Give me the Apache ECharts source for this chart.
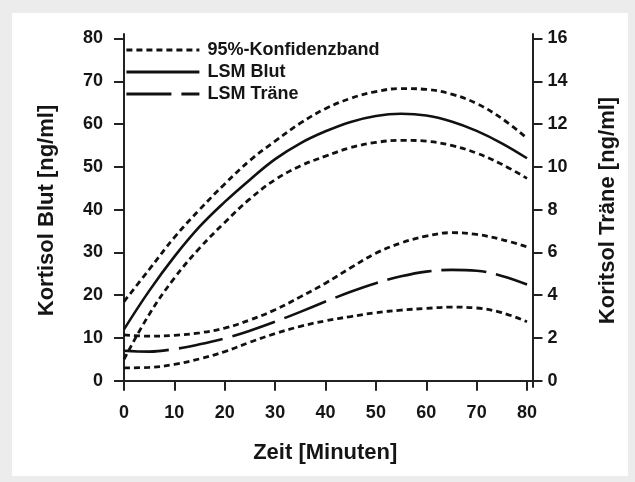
<!DOCTYPE html>
<html>
<head>
<meta charset="utf-8">
<script src="https://cdn.jsdelivr.net/npm/echarts@6/dist/echarts.min.js"></script>
<style>
  html, body { margin: 0; padding: 0; background: #ececec; }
  #panel { position: absolute; left: 12px; top: 13px; width: 616px; height: 463px; background: #ffffff; }
  #chart { position: absolute; left: 0; top: 0; width: 635px; height: 482px; }
</style>
</head>
<body>
<div id="panel"></div>
<div id="chart"></div>
<script>
// Zeit [Minuten]
const minutes = [0, 5, 10, 15, 20, 25, 30, 35, 40, 45, 50, 55, 60, 65, 70, 75, 80];
// Kortisol Blut [ng/ml] (left axis)
const blutLSM   = [12, 21, 29, 36, 41.8, 47, 51.8, 55.5, 58.3, 60.5, 61.9, 62.4, 62, 60.6, 58.4, 55.5, 52];
const blutUpper = [18.5, 26, 33.5, 40, 46, 51.5, 56, 60.2, 63.6, 66, 67.6, 68.3, 68.1, 67, 64.8, 61.3, 56.7];
const blutLower = [5, 15.5, 24, 31, 37, 42.5, 47, 50.2, 52.5, 54.5, 55.7, 56.2, 56, 55, 53.2, 50.6, 47.3];
// Kortisol Träne [ng/ml] (right axis)
const traeneLSM   = [1.40, 1.36, 1.48, 1.70, 1.98, 2.34, 2.76, 3.22, 3.70, 4.16, 4.56, 4.88, 5.10, 5.18, 5.14, 4.90, 4.50];
const traeneUpper = [2.14, 2.08, 2.12, 2.24, 2.46, 2.84, 3.32, 3.92, 4.56, 5.28, 5.96, 6.44, 6.76, 6.92, 6.84, 6.60, 6.26];
const traeneLower = [0.60, 0.62, 0.76, 1.02, 1.36, 1.80, 2.20, 2.54, 2.80, 3.00, 3.18, 3.30, 3.38, 3.44, 3.40, 3.18, 2.76];
// Tick labels
const xTicks = [0, 10, 20, 30, 40, 50, 60, 70, 80];
const yLeftTicks = [0, 10, 20, 30, 40, 50, 60, 70, 80];
const yRightTicks = [0, 2, 4, 6, 8, 10, 12, 14, 16];

const legendCI = '95%-Konfidenzband';
const legendBlut = 'LSM Blut';
const legendTraene = 'LSM Träne';

const FONT = '"Liberation Sans", Arial, Helvetica, sans-serif';
const INK = '#111111';

function pairs(ys) { return minutes.map((x, i) => [x, ys[i]]); }

function lineSeries(name, ys, axis, type, width) {
  return {
    name: name, type: 'line', yAxisIndex: axis, data: pairs(ys),
    smooth: 0.4, symbol: 'none', silent: true, animation: false,
    lineStyle: { color: INK, width: width, type: type, cap: 'butt' },
    itemStyle: { color: INK }
  };
}

const axisLineStyle = { show: true, lineStyle: { color: '#222', width: 2 } };
const tickLine = { color: '#222', width: 2 };
const labelStyle = { color: '#151515', fontFamily: FONT, fontWeight: 'bold', fontSize: 18 };
const nameStyle = { color: '#151515', fontFamily: FONT, fontWeight: 'bold', fontSize: 22 };

const chart = echarts.init(document.getElementById('chart'), null, { renderer: 'canvas' });
chart.setOption({
  backgroundColor: 'transparent',
  animation: false,
  grid: { left: 118, right: 102.5, top: 34, bottom: 95, containLabel: false },
  legend: {
    orient: 'vertical', left: 120, top: 36,
    itemWidth: 73, itemHeight: 14, itemGap: 4,
    data: [legendCI, legendBlut, legendTraene],
    itemStyle: { opacity: 0 },
    lineStyle: { width: 2.8 },
    textStyle: { color: '#151515', fontFamily: FONT, fontWeight: 'bold', fontSize: 18, padding: [0, 0, 0, 3] },
    selectedMode: false
  },
  xAxis: {
    type: 'value', min: -1.19, max: 81.09,
    name: 'Zeit [Minuten]', nameLocation: 'middle', nameGap: 55, nameTextStyle: nameStyle,
    axisLine: axisLineStyle,
    axisTick: { show: true, length: 10, inside: false, customValues: xTicks, lineStyle: tickLine },
    axisLabel: { show: true, margin: 17, customValues: xTicks, ...labelStyle },
    splitLine: { show: false }
  },
  yAxis: [
    {
      type: 'value', position: 'left', min: -1.47, max: 81.05,
      name: 'Kortisol Blut [ng/ml]', nameLocation: 'middle', nameRotate: 90, nameGap: 60, nameTextStyle: nameStyle,
      axisLine: axisLineStyle,
      axisTick: { show: true, length: 10, inside: false, customValues: yLeftTicks, lineStyle: tickLine },
      axisLabel: { show: true, margin: 15, customValues: yLeftTicks, ...labelStyle },
      splitLine: { show: false }
    },
    {
      type: 'value', position: 'right', min: -0.294, max: 16.21,
      name: 'Koritsol Träne [ng/ml]', nameLocation: 'middle', nameRotate: 90, nameGap: 64, nameTextStyle: nameStyle,
      axisLine: axisLineStyle,
      axisTick: { show: true, length: 10, inside: false, customValues: yRightTicks, lineStyle: tickLine },
      axisLabel: { show: true, margin: 15, customValues: yRightTicks, ...labelStyle },
      splitLine: { show: false }
    }
  ],
  series: [
    lineSeries(legendCI, blutUpper, 0, [6, 4], 2.8),
    lineSeries(legendCI, blutLower, 0, [6, 4], 2.8),
    lineSeries(legendBlut, blutLSM, 0, 'solid', 2.6),
    lineSeries(legendCI, traeneUpper, 1, [6, 4], 2.8),
    lineSeries(legendCI, traeneLower, 1, [6, 4], 2.8),
    lineSeries(legendTraene, traeneLSM, 1, [45, 10], 2.6)
  ]
});
</script>
</body>
</html>
